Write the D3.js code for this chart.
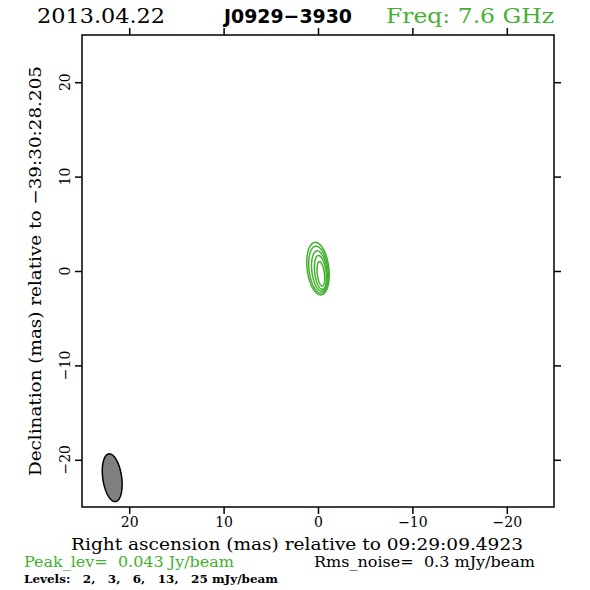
<!DOCTYPE html>
<html><head><meta charset="utf-8">
<script src="https://cdn.jsdelivr.net/npm/d3@7"></script>
<style>body{margin:0;background:#fff} svg{display:block}</style>
</head><body>
<svg id="c" width="590" height="590"></svg>
<script>
// ---- data ----
const obsDate = "2013.04.22";
const sourceName = "J0929\u22123930";
const freqLabel = "Freq: 7.6 GHz";
const xTicks = [20, 10, 0, -10, -20];
const yTicks = [20, 10, 0, -10, -20];
const xDomain = [25, -25];
const yDomain = [25, -25];
const xLabel = "Right ascension (mas) relative to 09:29:09.4923";
const yLabel = "Declination (mas) relative to \u221239:30:28.205";
const peakText = "Peak_lev=  0.043 Jy/beam";
const rmsText = "Rms_noise=  0.3 mJy/beam";
const contourLevels = [2, 3, 6, 13, 25]; // mJy/beam
// contour ellipses (mas): centre x, centre y, semi-major, semi-minor, PA (deg)
const contourCx  = [0.0, -0.05, -0.15, -0.25, -0.3];
const contourCy  = [0.25, 0.15, 0.0, -0.15, -0.3];
const contourMaj = [2.8, 2.5, 2.15, 1.8, 1.3];
const contourMin = [1.15, 1.0, 0.8, 0.6, 0.38];
const contourPA  = [7, 7, 7, 7, 7];
// restoring beam (mas): centre x, centre y, semi-major, semi-minor, PA
const beamParams = [21.8, -21.9, 2.55, 1.0, 8];

// ---- layout ----
const green = "#44b030";
const serif = "'DejaVu Serif', 'Liberation Serif', serif";
const L = 82, R = 554, T = 35, B = 507;
const svg = d3.select("#c");
const x = d3.scaleLinear().domain(xDomain).range([L, R]);
const y = d3.scaleLinear().domain(yDomain).range([T, B]);
const fmt = d => d3.format("")(d).replace("-", "\u2212");

function ellipse(cx, cy, maj, min, pa) {
  const p = pa * Math.PI / 180;
  const pts = d3.range(0, 361, 3).map(d => {
    const t = d * Math.PI / 180;
    return [cx + maj * Math.cos(t) * Math.sin(p) + min * Math.sin(t) * Math.cos(p),
            cy + maj * Math.cos(t) * Math.cos(p) - min * Math.sin(t) * Math.sin(p)];
  });
  return d3.line().x(d => x(d[0])).y(d => y(d[1]))(pts) + "Z";
}

// contours
svg.append("g").selectAll("path").data(contourLevels).join("path")
  .attr("d", (d, i) => ellipse(contourCx[i], contourCy[i], contourMaj[i], contourMin[i], contourPA[i]))
  .attr("fill", "none").attr("stroke", green).attr("stroke-width", 1.5);

// beam
svg.append("path")
  .attr("d", ellipse(...beamParams))
  .attr("fill", "#808080").attr("stroke", "#000").attr("stroke-width", 1.5);

// axes
const tl = 7;
svg.append("g").attr("transform", `translate(0,${B})`)
  .call(d3.axisBottom(x).tickValues(xTicks).tickSize(tl).tickSizeOuter(0).tickFormat(fmt))
  .call(g => g.select(".domain").remove())
  .call(g => g.selectAll("line").attr("stroke-width", 1.5))
  .call(g => g.selectAll("text").attr("font-family", serif).attr("font-size", 14).attr("fill", "#000").attr("dy", "0.71em"));
svg.append("g").attr("transform", `translate(0,${T})`)
  .call(d3.axisTop(x).tickValues(xTicks).tickSize(tl).tickFormat(""))
  .call(g => g.select(".domain").remove())
  .call(g => g.selectAll("line").attr("stroke-width", 1.5));
svg.append("g").attr("transform", `translate(${L},0)`)
  .call(d3.axisLeft(y).tickValues(yTicks).tickSize(tl).tickFormat(""))
  .call(g => g.select(".domain").remove())
  .call(g => g.selectAll("line").attr("stroke-width", 1.5));
svg.append("g").attr("transform", `translate(${R},0)`)
  .call(d3.axisRight(y).tickValues(yTicks).tickSize(tl).tickFormat(""))
  .call(g => g.select(".domain").remove())
  .call(g => g.selectAll("line").attr("stroke-width", 1.5));
// rotated y tick labels
svg.append("g").selectAll("text").data(yTicks).join("text")
  .attr("transform", d => `translate(70,${y(d)}) rotate(-90)`)
  .attr("text-anchor", "middle")
  .attr("font-family", serif).attr("font-size", 14)
  .text(fmt);

// frame
svg.append("rect").attr("x", L).attr("y", T).attr("width", R - L).attr("height", B - T)
  .attr("fill", "none").attr("stroke", "#000").attr("stroke-width", 1.5);

// titles
svg.append("text").attr("x", 37).attr("y", 23).attr("font-family", serif).attr("font-size", 20)
  .attr("textLength", 128).attr("lengthAdjust", "spacingAndGlyphs").text(obsDate);
svg.append("text").attr("x", 224).attr("y", 23).attr("font-family", "'DejaVu Sans', sans-serif").attr("font-weight", "bold").attr("font-size", 20)
  .attr("textLength", 128).attr("lengthAdjust", "spacingAndGlyphs").text(sourceName);
svg.append("text").attr("x", 386).attr("y", 23).attr("font-family", serif).attr("font-size", 20).attr("fill", green)
  .attr("textLength", 168).attr("lengthAdjust", "spacingAndGlyphs").text(freqLabel);

// axis labels
svg.append("text").attr("x", 71).attr("y", 550).attr("font-family", serif).attr("font-size", 17)
  .attr("textLength", 452).attr("lengthAdjust", "spacingAndGlyphs").text(xLabel);
svg.append("text").attr("transform", "translate(41,476) rotate(-90)").attr("font-family", serif).attr("font-size", 17)
  .attr("textLength", 410).attr("lengthAdjust", "spacingAndGlyphs").text(yLabel);

// bottom annotations
svg.append("text").attr("x", 24).attr("y", 567).attr("font-family", serif).attr("font-size", 14).attr("fill", green)
  .attr("xml:space", "preserve").attr("textLength", 210).attr("lengthAdjust", "spacingAndGlyphs").text(peakText);
svg.append("text").attr("x", 314).attr("y", 567).attr("font-family", serif).attr("font-size", 14)
  .attr("xml:space", "preserve").attr("textLength", 221).attr("lengthAdjust", "spacingAndGlyphs").text(rmsText);
svg.append("text").attr("x", 24).attr("y", 583).attr("font-family", serif).attr("font-size", 11).attr("font-weight", "bold")
  .attr("xml:space", "preserve").attr("textLength", 254).attr("lengthAdjust", "spacingAndGlyphs")
  .text("Levels:   " + contourLevels.join(",   ") + " mJy/beam");
</script>
</body></html>
